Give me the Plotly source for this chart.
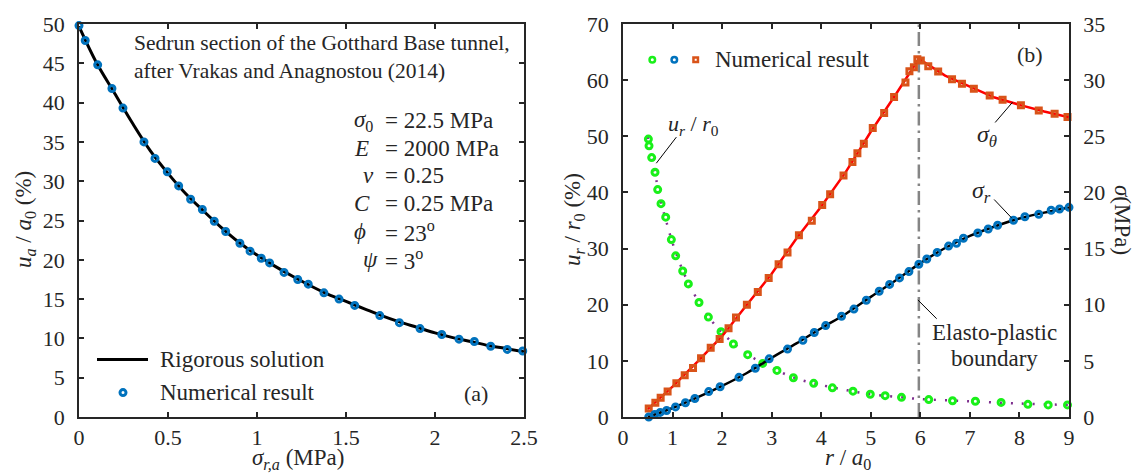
import plotly.graph_objects as go

# ---------------- data ----------------
# Panel (a): ground reaction curve
sig_a_curve = [0.0, 0.1, 0.2, 0.3, 0.4, 0.5, 0.6, 0.7, 0.8, 0.9, 1.0, 1.1, 1.2, 1.3,
               1.4, 1.5, 1.6, 1.7, 1.8, 1.9, 2.0, 2.1, 2.2, 2.3, 2.4, 2.5]
ua_curve = [49.7, 45.0, 41.2, 37.4, 33.9, 31.0, 28.4, 26.2, 24.1, 22.2, 20.6, 19.2,
            17.9, 16.7, 15.6, 14.7, 13.8, 12.9, 12.1, 11.4, 10.7, 10.1, 9.6, 9.1, 8.7, 8.3]
sig_a_num = [0.0, 0.035, 0.105, 0.185, 0.247, 0.365, 0.427, 0.496, 0.560, 0.627, 0.693,
             0.760, 0.824, 0.904, 0.961, 1.024, 1.071, 1.152, 1.229, 1.288, 1.376, 1.461,
             1.549, 1.690, 1.800, 1.916, 2.038, 2.135, 2.221, 2.313, 2.406, 2.493]
ua_num = [49.8, 47.9, 44.8, 41.8, 39.3, 35.0, 32.9, 31.2, 29.4, 27.7, 26.4, 24.9, 23.6,
          22.1, 21.1, 20.2, 19.6, 18.4, 17.5, 16.9, 15.8, 15.0, 14.2, 12.9, 12.0, 11.25,
          10.5, 9.9, 9.6, 9.0, 8.6, 8.4]

# Panel (b): radial displacement (left axis, %)
r_u_curve = [0.5, 0.6, 0.7, 0.8, 0.9, 1.0, 1.2, 1.4, 1.6, 1.8, 2.0, 2.3, 2.6, 3.0, 3.5,
             4.0, 4.5, 5.0, 5.5, 6.0, 7.0, 8.0, 9.0]
u_curve = [49.9, 45.6, 41.0, 37.2, 34.0, 31.0, 26.2, 22.5, 19.5, 17.0, 15.0, 12.6, 10.7,
           8.75, 6.85, 5.7, 4.8, 4.05, 3.6, 3.2, 2.8, 2.4, 2.15]
r_u_num = [0.512, 0.525, 0.579, 0.646, 0.70, 0.767, 0.862, 0.976, 1.063, 1.205, 1.319,
           1.534, 1.723, 1.978, 2.228, 2.516, 2.819, 3.107, 3.438, 3.848, 4.225, 4.641,
           4.99, 5.29, 5.62, 6.17, 6.65, 7.11, 7.63, 8.17, 8.58, 8.97]
u_num = [49.5, 48.3, 46.2, 43.6, 40.5, 38.0, 35.6, 31.6, 28.7, 26.0, 23.7, 20.4, 17.8,
         15.2, 13.0, 11.1, 9.55, 8.3, 7.0, 6.0, 5.2, 4.6, 4.05, 3.8, 3.5, 3.1, 2.9, 2.8,
         2.6, 2.25, 2.15, 2.15]

# Panel (b): stresses (right axis, MPa)
r_st_curve = [0.5, 1.0, 1.5, 2.0, 2.5, 3.0, 3.5, 4.0, 4.5, 5.0, 5.5, 5.97, 6.5, 7.0,
              7.5, 8.0, 8.5, 9.0]
st_curve = [0.7, 2.7, 4.9, 7.2, 10.0, 12.75, 15.9, 18.75, 21.85, 25.4, 28.7, 31.9,
            30.4, 29.4, 28.45, 27.8, 27.2, 26.7]
r_sr_curve = [0.5, 1.0, 1.5, 2.0, 2.5, 3.0, 3.5, 4.0, 4.5, 5.0, 5.5, 6.0, 6.5, 7.0,
              7.5, 8.0, 8.5, 9.0]
sr_curve = [0.0, 0.8, 1.74, 2.77, 3.92, 5.28, 6.55, 7.9, 9.2, 10.7, 12.15, 13.7, 15.05,
            16.13, 16.97, 17.68, 18.2, 18.67]
r_st_num = [0.519, 0.653, 0.76, 0.90, 1.077, 1.245, 1.413, 1.575, 1.77, 1.95, 2.13, 2.28,
            2.50, 2.72, 2.94, 3.14, 3.32, 3.55, 3.81, 4.02, 4.18, 4.45, 4.63, 4.73, 4.86,
            5.04, 5.27, 5.47, 5.70, 5.78, 5.87, 5.94, 6.01, 6.16, 6.36, 6.64, 6.84, 7.08,
            7.40, 7.66, 8.03, 8.39, 8.71, 8.97]
st_num = [0.76, 1.28, 1.71, 2.28, 3.01, 3.71, 4.37, 5.24, 6.17, 6.95, 7.9, 8.86, 10.0,
          11.14, 12.39, 13.6, 14.65, 16.18, 17.48, 18.87, 19.83, 21.51, 22.72, 23.48,
          24.34, 25.73, 27.07, 28.49, 29.79, 30.8, 31.15, 31.85, 31.76, 31.24, 30.77,
          30.08, 29.68, 29.24, 28.63, 28.25, 27.77, 27.3, 27.0, 26.72]
r_sr_num = [0.52, 0.64, 0.75, 0.88, 1.06, 1.26, 1.45, 1.73, 1.96, 2.34, 2.67, 2.95, 3.32,
            3.63, 3.86, 4.09, 4.41, 4.66, 4.91, 5.17, 5.38, 5.58, 5.77, 5.97, 6.13, 6.34,
            6.57, 6.73, 6.87, 7.16, 7.37, 7.56, 7.88, 8.11, 8.39, 8.64, 8.81, 9.0]
sr_num = [0.0, 0.23, 0.41, 0.58, 0.90, 1.27, 1.65, 2.26, 2.69, 3.53, 4.34, 5.18, 6.05,
          6.83, 7.53, 8.14, 8.97, 9.61, 10.4, 11.2, 11.81, 12.39, 12.95, 13.6, 14.07,
          14.66, 15.22, 15.47, 15.92, 16.39, 16.74, 17.08, 17.52, 17.83, 18.06, 18.41,
          18.52, 18.67]
r_boundary = 5.97

xticks_a = [0, 0.5, 1, 1.5, 2, 2.5]
xtick_a_text = ["0", "0.5", "1", "1.5", "2", "2.5"]
yticks_a = list(range(0, 55, 5))
xticks_b = list(range(0, 10))
yticks_b = list(range(0, 80, 10))
yticks_b2 = list(range(0, 40, 5))

params_sym = ["<i>σ</i><sub>0</sub>", "<i>E</i>", "<i>ν</i>", "<i>C</i>", "<i>ϕ</i>", "<i>ψ</i>"]
params_val = ["= 22.5 MPa", "= 2000 MPa", "= 0.25", "= 0.25 MPa", "= 23<sup>o</sup>", "= 3<sup>o</sup>"]

# ---------------- layout helpers ----------------
W, H = 1137, 475
ML, MR, MT, MB = 79, 68, 14, 58
PW = W - ML - MR
PH = H - MT - MB
FONT = "'Liberation Serif', 'Times New Roman', Times, serif"
TXT = "#262626"
BLUE = "#0072BD"
ORANGE = "#D95319"
GREEN = "#19F019"
PURPLE = "#7E2F8E"


def px(x):
    return (x - ML) / PW


def py(y):
    return (H - MB - y) / PH


fig = go.Figure()

# Panel (a)
fig.add_trace(go.Scatter(x=sig_a_curve, y=ua_curve, mode="lines", xaxis="x", yaxis="y",
                         line=dict(color="black", width=3, shape="spline"), showlegend=False))
fig.add_trace(go.Scatter(x=sig_a_num, y=ua_num, mode="markers", xaxis="x", yaxis="y",
                         cliponaxis=False, showlegend=False,
                         marker=dict(symbol="circle-open", size=6, color=BLUE,
                                     line=dict(width=3, color=BLUE))))

# Panel (b)
fig.add_trace(go.Scatter(x=r_u_curve, y=u_curve, mode="lines", xaxis="x2", yaxis="y2",
                         line=dict(color=PURPLE, width=2.5, dash="2px,9px", shape="spline"),
                         showlegend=False))
fig.add_trace(go.Scatter(x=r_u_num, y=u_num, mode="markers", xaxis="x2", yaxis="y2",
                         cliponaxis=False, showlegend=False,
                         marker=dict(symbol="circle-open", size=6, color=GREEN,
                                     line=dict(width=3, color=GREEN))))
fig.add_trace(go.Scatter(x=r_st_curve, y=st_curve, mode="lines", xaxis="x2", yaxis="y3",
                         line=dict(color="red", width=2.5), showlegend=False))
fig.add_trace(go.Scatter(x=r_st_num, y=st_num, mode="markers", xaxis="x2", yaxis="y3",
                         cliponaxis=False, showlegend=False,
                         marker=dict(symbol="square-open", size=5, color=ORANGE,
                                     line=dict(width=3, color=ORANGE))))
fig.add_trace(go.Scatter(x=r_sr_curve, y=sr_curve, mode="lines", xaxis="x2", yaxis="y3",
                         line=dict(color="black", width=2.5, shape="spline"), showlegend=False))
fig.add_trace(go.Scatter(x=r_sr_num, y=sr_num, mode="markers", xaxis="x2", yaxis="y3",
                         cliponaxis=False, showlegend=False,
                         marker=dict(symbol="circle-open", size=6, color=BLUE,
                                     line=dict(width=3, color=BLUE))))

tickfont = dict(family=FONT, size=22, color=TXT)
axis_common = dict(showline=True, linecolor=TXT, linewidth=1.5, ticks="inside", ticklen=5,
                   tickwidth=1.5, tickcolor=TXT, showgrid=False, zeroline=False,
                   tickfont=tickfont)

fig.update_layout(
    width=W, height=H,
    margin=dict(l=ML, r=MR, t=MT, b=MB),
    paper_bgcolor="white", plot_bgcolor="white",
    showlegend=False,
    font=dict(family=FONT, color=TXT),
    xaxis=dict(domain=[0, px(524)], range=[0, 2.5], tickvals=xticks_a, ticktext=xtick_a_text,
               mirror="ticks", anchor="y", ticklabelstandoff=0, **axis_common),
    yaxis=dict(domain=[0, 1], range=[0, 50], tickvals=yticks_a, mirror="ticks",
               anchor="x", ticklabelstandoff=8, **axis_common),
    xaxis2=dict(domain=[px(623), 1], range=[0, 9], tickvals=xticks_b, mirror="ticks",
                anchor="y2", ticklabelstandoff=0, **axis_common),
    yaxis2=dict(domain=[0, 1], range=[0, 70], tickvals=yticks_b, anchor="x2",
                ticklabelstandoff=8, **axis_common),
    yaxis3=dict(range=[0, 35], tickvals=yticks_b2, anchor="x2", overlaying="y2",
                side="right", ticklabelstandoff=8, **axis_common),
)

shapes = []
annots = []


def text(x, y, s, size=22, xanchor="center", angle=0):
    annots.append(dict(x=px(x), y=py(y), xref="paper", yref="paper", text=s, showarrow=False,
                       xanchor=xanchor, yanchor="middle", textangle=angle,
                       font=dict(family=FONT, size=size, color=TXT)))


# boundary line
shapes.append(dict(type="line", xref="x2", yref="y2 domain", x0=r_boundary, x1=r_boundary,
                   y0=0, y1=1, layer="below",
                   line=dict(color="#858585", width=2.5, dash="14px,5px,2.5px,5px")))

# Panel (a) texts
text(132, 48, "Sedrun section of the Gotthard Base tunnel,<br>after Vrakas and Anagnostou (2014)",
     size=21.5, xanchor="left")
annots[-1]["align"] = "left"
for i, (s, v) in enumerate(zip(params_sym, params_val)):
    yc = 113 + 28.4 * i
    xs = 361 if i in (2, 5) else 352
    text(xs, yc, s, size=23, xanchor="left")
    text(383, yc, v, size=23, xanchor="left")
text(476, 393, "(a)", size=22)

# Panel (a) legend
shapes.append(dict(type="line", xref="paper", yref="paper", x0=px(97), x1=px(148),
                   y0=py(358), y1=py(358), line=dict(color="black", width=3)))
shapes.append(dict(type="circle", xref="paper", yref="paper", xsizemode="pixel",
                   ysizemode="pixel", xanchor=px(123), yanchor=py(392),
                   x0=-3, x1=3, y0=-3, y1=3, line=dict(color=BLUE, width=3)))
text(158, 358, "Rigorous solution", size=23, xanchor="left")
text(158, 392, "Numerical result", size=23, xanchor="left")

# Panel (b) legend
for xc, col in ((652.3, GREEN), (674.3, BLUE)):
    shapes.append(dict(type="circle", xref="paper", yref="paper", xsizemode="pixel",
                       ysizemode="pixel", xanchor=px(xc), yanchor=py(50.7),
                       x0=-2.75, x1=2.75, y0=-2.75, y1=2.75, line=dict(color=col, width=2.5)))
shapes.append(dict(type="rect", xref="paper", yref="paper", xsizemode="pixel",
                   ysizemode="pixel", xanchor=px(695.7), yanchor=py(50.7),
                   x0=-2.25, x1=2.25, y0=-2.25, y1=2.25, line=dict(color=ORANGE, width=2.5)))
text(713, 50, "Numerical result", size=23, xanchor="left")
text(1030, 45, "(b)", size=22)

# Panel (b) labels with leaders
text(693, 118, "<i>u<sub>r</sub></i> / <i>r</i><sub>0</sub>", size=22)
shapes.append(dict(type="line", xref="x2", yref="y2", x0=1.077, y0=49.85, x1=0.672, y1=45.2,
                   line=dict(color="black", width=1)))
text(987, 129, "<i>σ<sub>θ</sub></i>", size=24)
shapes.append(dict(type="line", xref="x2", yref="y3", x0=7.51, y0=26.23, x1=7.86, y1=28.03,
                   line=dict(color="black", width=1)))
text(981, 186, "<i>σ<sub>r</sub></i>", size=24)
shapes.append(dict(type="line", xref="x2", yref="y3", x0=7.49, y0=19.37, x1=7.84, y1=17.74,
                   line=dict(color="black", width=1)))
text(994, 330, "Elasto-plastic", size=23)
text(994, 357, "boundary", size=23)
shapes.append(dict(type="line", xref="x2", yref="y2", x0=5.95, y0=20.85, x1=6.33, y1=17.5,
                   line=dict(color="black", width=1)))

# Axis titles
text(25, 215, "<i>u<sub>a</sub></i> / <i>a</i><sub>0</sub> (%)", size=23, angle=-90)
text(298, 460, "<i>σ<sub>r,a</sub></i> (MPa)", size=23)
text(574, 215, "<i>u<sub>r</sub></i> / <i>r</i><sub>0</sub> (%)", size=23, angle=-90)
text(848, 460, "<i>r</i> / <i>a</i><sub>0</sub>", size=23)
text(1123, 215, "<i>σ</i>(MPa)", size=23, angle=90)

fig.update_layout(shapes=shapes, annotations=annots)
fig.write_html("out.html")
